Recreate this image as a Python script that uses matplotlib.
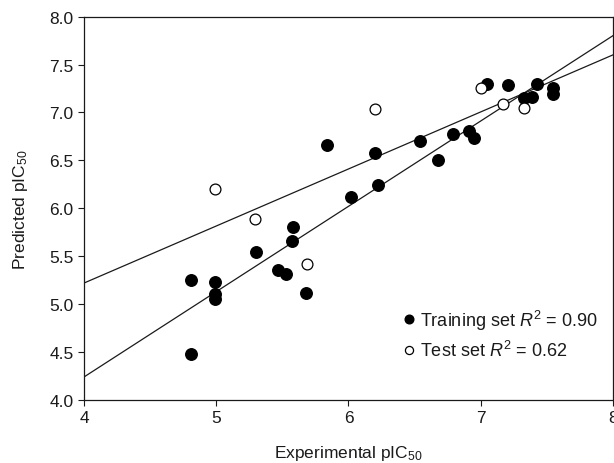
import matplotlib
matplotlib.use("Agg")
import matplotlib.pyplot as plt
import numpy as np

plt.rcParams['font.family'] = ['Liberation Sans', 'DejaVu Sans']
plt.rcParams['mathtext.fontset'] = 'custom'
plt.rcParams['mathtext.rm'] = 'Liberation Sans'
plt.rcParams['mathtext.it'] = 'Liberation Sans:italic'

train_x = [7.05, 7.21, 7.43, 7.55, 7.55, 7.33, 7.39, 6.79, 6.91, 6.95, 6.54, 5.84,
           6.20, 6.68, 6.22, 6.02, 5.58, 5.57, 5.30, 5.47, 5.53, 5.68, 4.81, 4.99,
           4.99, 4.99, 4.81]
train_y = [7.30, 7.29, 7.30, 7.25, 7.19, 7.15, 7.16, 6.78, 6.81, 6.73, 6.70, 6.66,
           6.58, 6.50, 6.24, 6.12, 5.80, 5.66, 5.54, 5.36, 5.31, 5.12, 5.25, 5.23,
           5.11, 5.05, 4.48]
test_x = [7.00, 6.20, 7.17, 7.33, 4.99, 5.29, 5.69]
test_y = [7.25, 7.04, 7.09, 7.05, 6.20, 5.89, 5.42]

train_fit = (4.24, 0.89)   # intercept at x=4, slope
test_fit = (5.22, 0.595)

fig = plt.figure(figsize=(6.14, 4.64), dpi=100)
ax = fig.add_axes([0.137, 0.136, 0.861, 0.826])

xs = np.array([4.0, 8.0])
for b, m in (train_fit, test_fit):
    ax.plot(xs, b + m * (xs - 4), color='#1a1a1a', lw=0.9, zorder=1)

ax.plot(train_x, train_y, 'o', color='black', ms=8.3, mec='black', zorder=3,
        label='Training set $R^2$ = 0.90')
ax.plot(test_x, test_y, 'o', mfc='white', mec='black', mew=0.9, ms=7.8, zorder=3,
        label='Test set $R^2$ = 0.62')

ax.set_xlim(4, 8)
ax.set_ylim(4, 8)
ax.set_xticks([4, 5, 6, 7, 8])
ax.set_yticks(np.arange(4.0, 8.01, 0.5))
ax.set_yticklabels([f'{v:.1f}' for v in np.arange(4.0, 8.01, 0.5)])
ax.tick_params(direction='out', length=4, width=0.8, labelsize=12.5, colors='#1a1a1a')
for s in ax.spines.values():
    s.set_linewidth(0.9)
    s.set_color('#1a1a1a')

ax.set_xlabel('Experimental pIC$_{50}$', fontsize=12.5, labelpad=13, color='#1a1a1a')
ax.set_ylabel('Predicted pIC$_{50}$', fontsize=12.5, labelpad=14, color='#1a1a1a')

leg = ax.legend(loc='lower right', bbox_to_anchor=(0.972, 0.104), frameon=False,
                fontsize=13, handletextpad=0.1, handlelength=1.0, markerscale=0.75,
                borderaxespad=0, borderpad=0, labelspacing=0.45)
for t in leg.get_texts():
    t.set_color('#1a1a1a')

fig.savefig('out.png', dpi=100)
